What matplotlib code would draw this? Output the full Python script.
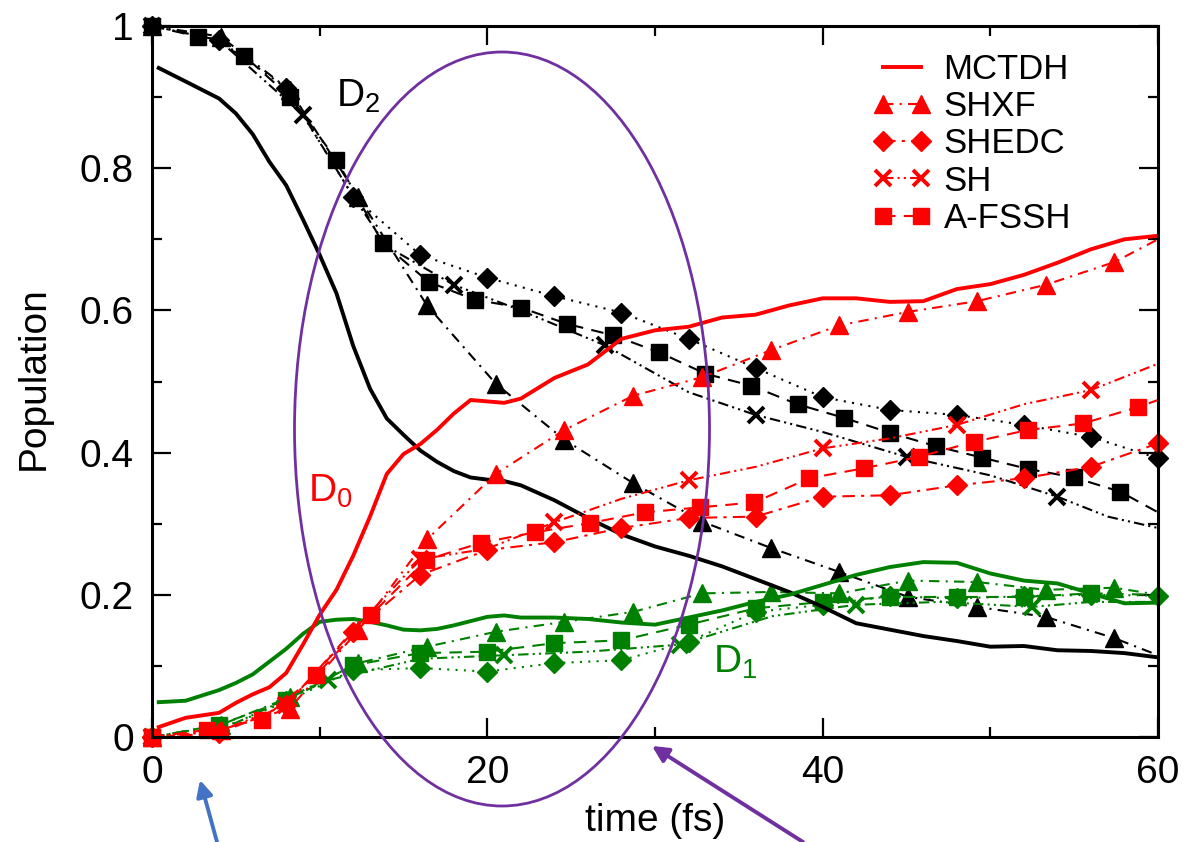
import matplotlib
matplotlib.use('Agg')
import matplotlib.pyplot as plt
from matplotlib.patches import Ellipse, FancyArrowPatch

plt.rcParams['font.family'] = ['Liberation Sans', 'DejaVu Sans']
plt.rcParams['mathtext.fontset'] = 'custom'
plt.rcParams['mathtext.rm'] = 'Liberation Sans'

RED, GREEN, BLACK = '#ff0000', '#008000', '#000000'

# MCTDH (exact) populations
t_mctdh = [0.4, 2, 4, 5, 6, 7, 8, 9, 10, 11, 12, 13, 14, 15, 16, 17, 18, 19, 20, 21,
           22, 24, 26, 28, 30, 32, 34, 36, 38, 40, 42, 44, 46, 48, 50, 52, 54, 56, 58, 60]
d2_mctdh = [0.941, 0.922, 0.898, 0.877, 0.848, 0.809, 0.776, 0.728, 0.678, 0.624, 0.55, 0.49,
            0.448, 0.425, 0.403, 0.387, 0.374, 0.365, 0.362, 0.36, 0.354, 0.333, 0.308, 0.285,
            0.268, 0.255, 0.24, 0.222, 0.204, 0.183, 0.16, 0.151, 0.142, 0.135, 0.127, 0.128,
            0.122, 0.121, 0.118, 0.112]
d0_mctdh = [0.014, 0.027, 0.034, 0.048, 0.06, 0.07, 0.09, 0.13, 0.172, 0.207, 0.255, 0.31,
            0.37, 0.398, 0.412, 0.432, 0.455, 0.474, 0.472, 0.47, 0.476, 0.505, 0.524, 0.56,
            0.572, 0.577, 0.59, 0.594, 0.607, 0.617, 0.617, 0.612, 0.613, 0.63, 0.637, 0.65,
            0.667, 0.686, 0.7, 0.705]
d1_mctdh = [0.049, 0.051, 0.066, 0.076, 0.088, 0.106, 0.124, 0.145, 0.162, 0.165, 0.166, 0.162,
            0.157, 0.151, 0.15, 0.152, 0.157, 0.163, 0.169, 0.171, 0.168, 0.168, 0.166, 0.161,
            0.158, 0.168, 0.178, 0.19, 0.2, 0.214, 0.228, 0.239, 0.246, 0.245, 0.23, 0.22,
            0.216, 0.202, 0.188, 0.189]

# SHXF
t_shxf = [0, 4.1, 8.2, 12.3, 16.4, 20.5, 24.6, 28.7, 32.8, 36.9, 41.0, 45.1, 49.2, 53.3, 57.4, 60]
d2_shxf = [1.0, 0.985, 0.91, 0.76, 0.607, 0.497, 0.418, 0.357, 0.303, 0.266, 0.232, 0.197,
           0.183, 0.169, 0.139, 0.115]
d0_shxf = [0.0, 0.01, 0.04, 0.15, 0.278, 0.37, 0.432, 0.48, 0.506, 0.544, 0.579, 0.598,
           0.613, 0.636, 0.668, 0.70]
d1_shxf = [0.0, 0.017, 0.056, 0.104, 0.127, 0.148, 0.162, 0.176, 0.202, 0.204, 0.202, 0.22,
           0.218, 0.207, 0.21, 0.20]

# SHEDC
t_shedc = [0, 4, 8, 12, 16, 20, 24, 28, 32, 36, 40, 44, 48, 52, 56, 60]
d2_shedc = [1.0, 0.98, 0.913, 0.76, 0.678, 0.646, 0.62, 0.597, 0.56, 0.519, 0.478, 0.46,
            0.453, 0.439, 0.422, 0.392]
d0_shedc = [0.0, 0.005, 0.045, 0.148, 0.228, 0.263, 0.274, 0.294, 0.308, 0.31, 0.338, 0.34,
            0.354, 0.364, 0.38, 0.413]
d1_shedc = [0.0, 0.01, 0.05, 0.094, 0.097, 0.092, 0.104, 0.108, 0.134, 0.176, 0.186, 0.198,
            0.195, 0.198, 0.2, 0.199]

# SH (plain surface hopping)
t_sh_d2 = [0, 4, 9, 12, 14, 18, 22, 27, 32, 36, 40, 45, 50, 54, 57, 60]
d2_sh = [1.0, 0.98, 0.875, 0.76, 0.69, 0.636, 0.6, 0.551, 0.485, 0.453, 0.429, 0.394, 0.368,
         0.338, 0.31, 0.294]
mk_sh_d2 = [0, 2, 5, 7, 9, 11, 13]
t_sh_d0 = [0, 4, 8, 12, 16, 20, 24, 28, 32, 36, 40, 44, 48, 52, 56, 60]
d0_sh = [0.0, 0.008, 0.045, 0.15, 0.25, 0.265, 0.302, 0.335, 0.361, 0.38, 0.406, 0.42, 0.439,
         0.468, 0.488, 0.525]
mk_sh_d0 = [0, 2, 4, 6, 8, 10, 12, 14]
t_sh_d1 = [0, 5, 10.5, 16, 21, 26, 31.5, 37, 42, 47, 52.5, 56, 60]
d1_sh = [0.0, 0.02, 0.08, 0.11, 0.115, 0.12, 0.13, 0.17, 0.186, 0.19, 0.183, 0.19, 0.19]
mk_sh_d1 = [0, 2, 4, 6, 8, 10]

# A-FSSH
t_afssh_d2 = [0, 2.75, 5.5, 8.25, 11, 13.75, 16.5, 19.25, 22, 24.75, 27.5, 30.25, 33, 35.75,
              38.5, 41.25, 44, 46.75, 49.5, 52.25, 55, 57.75, 60]
d2_afssh = [1.0, 0.985, 0.958, 0.9, 0.812, 0.695, 0.64, 0.615, 0.604, 0.581, 0.565, 0.541,
            0.511, 0.494, 0.468, 0.449, 0.428, 0.409, 0.393, 0.377, 0.365, 0.345, 0.316]
t_afssh_d0 = [0, 3.27, 6.53, 9.8, 13.07, 16.33, 19.6, 22.87, 26.13, 29.4, 32.67, 35.93, 39.2,
              42.47, 45.73, 49.0, 52.27, 55.53, 58.8, 60]
d0_afssh = [0.0, 0.01, 0.024, 0.087, 0.172, 0.249, 0.273, 0.288, 0.301, 0.316, 0.323, 0.33,
            0.364, 0.378, 0.394, 0.415, 0.432, 0.441, 0.464, 0.474]
t_afssh_d1 = [0, 4, 8, 12, 16, 20, 24, 28, 32, 36, 40, 44, 48, 52, 56, 60]
d1_afssh = [0.0, 0.017, 0.052, 0.101, 0.118, 0.12, 0.132, 0.136, 0.158, 0.181, 0.19, 0.197,
            0.197, 0.197, 0.202, 0.2]

fig = plt.figure(figsize=(11.86, 8.42), dpi=100)
ax = fig.add_axes([0.1282, 0.1247, 0.8482, 0.8444])

lw_sh = 1.5
# dash patterns
ls_xf = (0, (5, 3, 1, 3))
ls_edc_k = (0, (1, 3))
ls_edc = (0, (6, 3, 1.5, 3))
ls_sh = (0, (5, 2, 1, 2, 1, 2))
ls_af = (0, (6, 4))

ms_tri, ms_dia, ms_x, ms_sq = 13, 10.5, 11.5, 11.5


def sh_line(t, y, color, ls, marker, ms, every=None, label=None, mew=1):
    ax.plot(t, y, color=color, ls=ls, lw=lw_sh, marker=marker, ms=ms, mew=mew,
            markevery=every, clip_on=False, label=label)


# SHXF
sh_line(t_shxf, d2_shxf, BLACK, ls_xf, '^', ms_tri, every=list(range(15)))
sh_line(t_shxf, d1_shxf, GREEN, ls_xf, '^', ms_tri, every=list(range(15)))
# SHEDC
sh_line(t_shedc, d2_shedc, BLACK, ls_edc_k, 'D', ms_dia)
sh_line(t_shedc, d1_shedc, GREEN, ls_edc_k, 'D', ms_dia)
# SH
sh_line(t_sh_d2, d2_sh, BLACK, ls_sh, 'x', ms_x, every=mk_sh_d2, mew=2.8)
sh_line(t_sh_d1, d1_sh, GREEN, ls_sh, 'x', ms_x, every=mk_sh_d1, mew=2.8)
# A-FSSH
sh_line(t_afssh_d2, d2_afssh, BLACK, ls_af, 's', ms_sq, every=list(range(22)))
sh_line(t_afssh_d1, d1_afssh, GREEN, ls_af, 's', ms_sq, every=list(range(15)))

# MCTDH
ax.plot(t_mctdh, d2_mctdh, color=BLACK, lw=2.8)
ax.plot(t_mctdh, d1_mctdh, color=GREEN, lw=2.8)
ax.plot(t_mctdh, d0_mctdh, color=RED, lw=2.8, label='MCTDH')

# red (D0) lines carry the legend
sh_line(t_shxf, d0_shxf, RED, ls_xf, '^', ms_tri, every=list(range(15)), label='SHXF')
sh_line(t_shedc, d0_shedc, RED, ls_edc, 'D', ms_dia, label='SHEDC')
sh_line(t_sh_d0, d0_sh, RED, ls_sh, 'x', ms_x, every=mk_sh_d0, label='SH', mew=2.8)
sh_line(t_afssh_d0, d0_afssh, RED, ls_af, 's', ms_sq, every=list(range(19)), label='A-FSSH')

ax.set_xlim(0, 60)
ax.set_ylim(0, 1)
ax.set_xticks([0, 20, 40, 60])
ax.set_xticks([10, 30, 50], minor=True)
ax.set_yticks([0, 0.2, 0.4, 0.6, 0.8, 1.0])
ax.set_yticklabels(['0', '0.2', '0.4', '0.6', '0.8', '1'])
ax.set_yticks([0.1, 0.3, 0.5, 0.7, 0.9], minor=True)
ax.tick_params(which='both', direction='in', top=True, right=True, width=1.6,
               labelsize=28, pad=13)
ax.tick_params(which='major', length=14)
ax.tick_params(which='minor', length=7)
for s in ax.spines.values():
    s.set_linewidth(2.2)

ax.set_xlabel('time (fs)', fontsize=28)
ax.set_ylabel('Population', fontsize=28)
ax.xaxis.set_label_coords(0.5, -0.118)
ax.xaxis.label.set_va('center')
ax.yaxis.set_label_coords(-0.118, 0.505)
ax.yaxis.label.set_va('center')

ax.text(11.0, 0.886, r'D$_2$', fontsize=28, color=BLACK, ha='left', va='baseline')
ax.text(9.3, 0.331, r'D$_0$', fontsize=28, color=RED, ha='left', va='baseline')
ax.text(33.45, 0.09, r'D$_1$', fontsize=28, color=GREEN, ha='left', va='baseline')

ax.legend(loc='upper left', bbox_to_anchor=(0.716, 0.962), frameon=False, fontsize=25,
          numpoints=2, handlelength=1.7, handletextpad=0.35, labelspacing=0.12,
          borderpad=0, borderaxespad=0)

# annotations drawn over the figure
W, H = 1186, 842
fig.add_artist(Ellipse((502 / W, 1 - 429 / H), 415 / W, 754 / H,
                       transform=fig.transFigure, fill=False, ec='#7030a0', lw=2.0))
fig.add_artist(FancyArrowPatch((217 / W, 0.0), (200 / W, 1 - 780 / H),
                               transform=fig.transFigure, arrowstyle='-|>',
                               mutation_scale=24, lw=2.8, color='#4472c4',
                               shrinkA=0, shrinkB=0))
fig.add_artist(FancyArrowPatch((803 / W, 0.0), (652 / W, 1 - 746 / H),
                               transform=fig.transFigure, arrowstyle='-|>',
                               mutation_scale=24, lw=2.8, color='#7030a0',
                               shrinkA=0, shrinkB=0))

fig.savefig('out.png', dpi=100)
